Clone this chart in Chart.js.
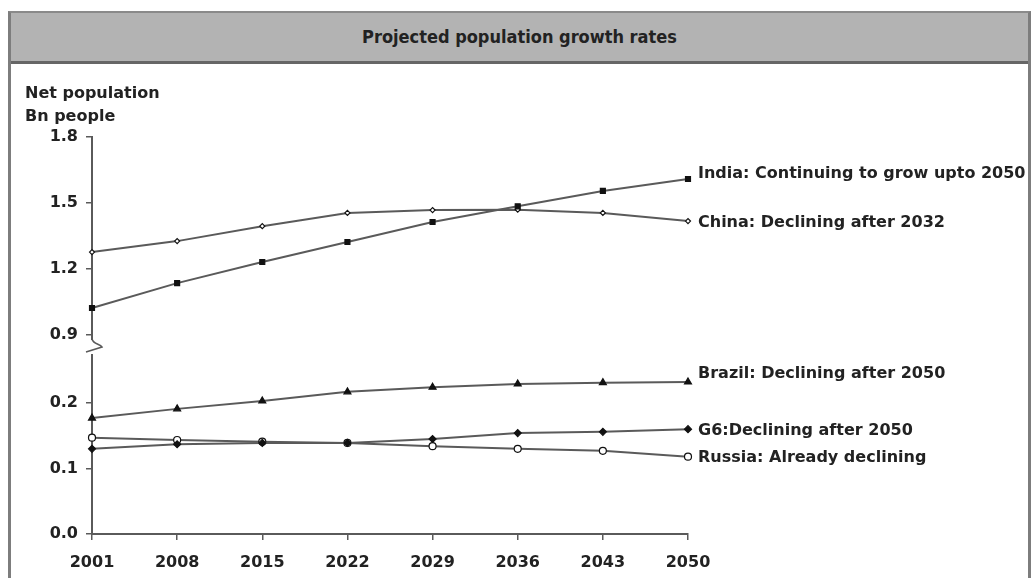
<!DOCTYPE html>
<html>
<head>
<meta charset="utf-8">
<script src="https://cdn.jsdelivr.net/npm/chart.js@4.4.1/dist/chart.umd.min.js"></script>
<style>
  html, body { margin: 0; padding: 0; background: #fff; }
  body { width: 1032px; height: 578px; overflow: hidden; position: relative; }
  #frame {
    position: absolute; left: 8px; top: 11px; width: 1017px; height: 620px;
    border-left: 3px solid #7d7d7d; border-right: 3px solid #7d7d7d; border-top: 2px solid #8a8a8a;
  }
  #band {
    height: 48px; background: #b3b3b3; border-bottom: 3px solid #666;
    text-align: center; line-height: 48px; color: #222;
    font-family: "DejaVu Sans Condensed", "DejaVu Sans", sans-serif; font-stretch: condensed;
    font-weight: bold; font-size: 18px;
  }
  #wrap { position: absolute; left: 0; top: 0; width: 1032px; height: 578px; }
</style>
</head>
<body>
<div id="frame"><div id="band">Projected population growth rates</div></div>
<div id="wrap"><canvas id="c" width="1032" height="578"></canvas></div>
<script>
// Net population, billions of people
const years  = ['2001', '2008', '2015', '2022', '2029', '2036', '2043', '2050'];
const india  = [1.023, 1.136, 1.232, 1.323, 1.414, 1.485, 1.555, 1.609];
const china  = [1.277, 1.327, 1.395, 1.455, 1.468, 1.470, 1.455, 1.418];
const brazil = [0.177, 0.191, 0.203, 0.217, 0.224, 0.229, 0.231, 0.232];
const g6     = [0.130, 0.137, 0.139, 0.139, 0.145, 0.154, 0.156, 0.160];
const russia = [0.147, 0.1435, 0.141, 0.139, 0.134, 0.130, 0.127, 0.118];

// tick labels of the two halves of the broken value axis
const upperTicks = [0.9, 1.2, 1.5, 1.8];
const lowerTicks = [0.0, 0.1, 0.2];

const seriesNotes = [
  'India: Continuing to grow upto 2050',
  'China: Declining after 2032',
  'Brazil: Declining after 2050',
  'G6:Declining after 2050',
  'Russia: Already declining'
];
const axisTitle = ['Net population', 'Bn people'];

const FONT = '"DejaVu Sans", "Liberation Sans", Arial, sans-serif';
const INK = '#222';
const LINE = '#5a5a5a';
const noteShift = [-5, 2, -8, 2, 1];

// end-of-line notes, axis title and the break mark on the value axis
const annotate = {
  id: 'annotate',
  afterDatasetsDraw(chart) {
    const ctx = chart.ctx;
    ctx.save();
    ctx.font = 'bold 16px ' + FONT;
    ctx.fillStyle = INK;
    ctx.textAlign = 'left';
    ctx.textBaseline = 'middle';
    chart.data.datasets.forEach((ds, i) => {
      const pts = chart.getDatasetMeta(i).data;
      const p = pts[pts.length - 1];
      ctx.fillText(seriesNotes[i], p.x + 10, p.y + noteShift[i]);
    });
    ctx.fillText(axisTitle[0], 25, 94);
    ctx.fillText(axisTitle[1], 25, 117);

    // axis break
    const x = chart.chartArea.left;
    const yb = chart.scales.yTop.bottom;
    ctx.fillStyle = '#fff';
    ctx.fillRect(x - 3, yb - 5, 6, 14);
    ctx.strokeStyle = LINE;
    ctx.lineWidth = 1.5;
    ctx.beginPath();
    ctx.moveTo(x, yb - 6);
    ctx.bezierCurveTo(x + 1, yb - 1, x + 8, yb - 1, x + 10, yb + 2);
    ctx.lineTo(x - 6, yb + 7);
    ctx.stroke();
    ctx.restore();
  }
};

const tickFont = { family: FONT, size: 16, weight: 'bold' };

function series(label, data, axis, style, radius, filled) {
  return {
    label, data, yAxisID: axis,
    borderColor: LINE, borderWidth: 2, tension: 0, clip: false,
    pointStyle: style, pointRadius: radius,
    pointBackgroundColor: filled ? '#111' : '#fff',
    pointBorderColor: '#111', pointBorderWidth: 1.2
  };
}

new Chart(document.getElementById('c'), {
  type: 'line',
  data: {
    labels: years,
    datasets: [
      series('India', india, 'yTop', 'rect', 3.5, true),
      series('China', china, 'yTop', 'rectRot', 2.5, false),
      series('Brazil', brazil, 'yBot', 'triangle', 4, true),
      series('G6', g6, 'yBot', 'rectRot', 3.5, true),
      series('Russia', russia, 'yBot', 'circle', 3.5, false)
    ]
  },
  options: {
    responsive: false,
    animation: false,
    devicePixelRatio: 1,
    layout: { padding: { left: 0, top: 137, right: 344, bottom: 0 } },
    plugins: { legend: { display: false }, tooltip: { enabled: false } },
    scales: {
      x: {
        type: 'category', offset: false,
        grid: { drawOnChartArea: false, drawTicks: true, tickLength: 6, color: LINE, lineWidth: 1.5 },
        border: { color: LINE, width: 2 },
        ticks: { font: tickFont, color: INK, padding: 13, maxRotation: 0, autoSkip: false },
        afterFit(s) { s.height = 44; }
      },
      yTop: {
        type: 'linear', position: 'left', stack: 'pop', stackWeight: 208, weight: 2,
        min: 0.855, max: 1.8,
        grid: { drawOnChartArea: false, drawTicks: true, tickLength: 6, color: LINE, lineWidth: 1.5 },
        border: { color: LINE, width: 2 },
        ticks: { font: tickFont, color: INK, padding: 8, callback: v => v.toFixed(1) },
        afterBuildTicks(s) { s.ticks = upperTicks.map(v => ({ value: v })); },
        afterFit(s) { s.width = 92; }
      },
      yBot: {
        type: 'linear', position: 'left', stack: 'pop', stackWeight: 189, weight: 1,
        min: 0, max: 0.2885,
        grid: { drawOnChartArea: false, drawTicks: true, tickLength: 6, color: LINE, lineWidth: 1.5 },
        border: { color: LINE, width: 2 },
        ticks: { font: tickFont, color: INK, padding: 8, callback: v => v.toFixed(1) },
        afterBuildTicks(s) { s.ticks = lowerTicks.map(v => ({ value: v })); },
        afterFit(s) { s.width = 92; }
      }
    }
  },
  plugins: [annotate]
});
</script>
</body>
</html>
